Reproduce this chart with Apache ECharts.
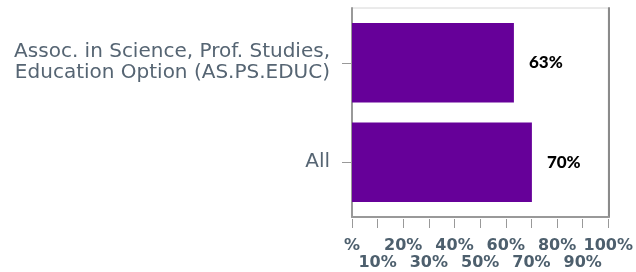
<!DOCTYPE html>
<html><head><meta charset="utf-8">
<script src="https://cdn.jsdelivr.net/npm/echarts@6/dist/echarts.min.js"></script>
<style>html,body{margin:0;padding:0;background:#fff}#c{width:636px;height:272px}</style>
</head><body><div id="c"></div>
<script>
const categories = ["Assoc. in Science, Prof. Studies,\nEducation Option (AS.PS.EDUC)", "All"];
const values = [63, 70];
const tickLabels = ["%", "10%", "20%", "30%", "40%", "50%", "60%", "70%", "80%", "90%", "100%"];

const labelBase = {fontFamily: 'DejaVu Sans', fontWeight: 'bold', fontSize: 16, color: '#4d5f6d',
  verticalAlign: 'top', showMinLabel: true, showMaxLabel: true, hideOverlap: false};
const hidden = {axisLine: {show: false}, axisTick: {show: false}, axisLabel: {show: false}, splitLine: {show: false}};
const chart = echarts.init(document.getElementById('c'), null, {renderer: 'canvas'});
chart.setOption({
  animation: false,
  grid: [
    {left: 352, right: 27, top: 8, bottom: 55, show: true, borderColor: '#d6d6d6', borderWidth: 1, backgroundColor: '#fff'},
    {left: 352, right: 27, top: 13, bottom: 60}
  ],
  xAxis: [
    Object.assign({type: 'value', gridIndex: 0, min: 0, max: 100, interval: 10, position: 'bottom'}, hidden,
      {axisLine: {show: true, onZero: false, lineStyle: {color: '#999', width: 2}}}),
    {
      type: 'value', gridIndex: 0, min: 0, max: 100, interval: 10, position: 'bottom', offset: 2,
      axisLine: {show: false, onZero: false},
      axisTick: {show: true, length: 9, lineStyle: {color: '#999', width: 1}},
      splitLine: {show: false},
      axisLabel: Object.assign({}, labelBase, {margin: 19,
        formatter: function (v) { const i = Math.round(v / 10); return i % 2 === 0 ? tickLabels[i] : ''; }})
    }, {
      type: 'value', gridIndex: 0, min: 0, max: 100, interval: 10, position: 'bottom', offset: 19,
      axisLine: {show: false, onZero: false}, axisTick: {show: false}, splitLine: {show: false},
      axisLabel: Object.assign({}, labelBase, {margin: 19,
        formatter: function (v) { const i = Math.round(v / 10); return i % 2 === 1 ? tickLabels[i] : ''; }})
    },
    Object.assign({type: 'value', gridIndex: 1, min: 0, max: 100, interval: 10}, hidden)
  ],
  yAxis: [
    Object.assign({type: 'value', gridIndex: 0, min: 0, max: 1, position: 'left'}, hidden,
      {axisLine: {show: true, onZero: false, lineStyle: {color: '#999', width: 2}}}),
    Object.assign({type: 'value', gridIndex: 0, min: 0, max: 1, position: 'right'}, hidden,
      {axisLine: {show: true, onZero: false, lineStyle: {color: '#8a8a8a', width: 2}}}),
    {
      type: 'category', gridIndex: 1, data: categories, inverse: true, position: 'left',
      axisLine: {show: false, onZero: false},
      axisTick: {show: true, alignWithLabel: true, length: 10, lineStyle: {color: '#999'}},
      axisLabel: {margin: 22, fontFamily: 'DejaVu Sans', fontSize: 20, color: '#566573', lineHeight: 21, padding: [3, 0, 0, 0]}
    }
  ],
  series: [{
    type: 'bar', data: values, barCategoryGap: '20%', xAxisIndex: 3, yAxisIndex: 2,
    itemStyle: {color: '#660099'},
    label: {show: true, position: 'right', distance: 15, formatter: '{c}%', fontFamily: 'Lato', fontWeight: 900, fontSize: 17, color: '#000'}
  }]
});
</script></body></html>
